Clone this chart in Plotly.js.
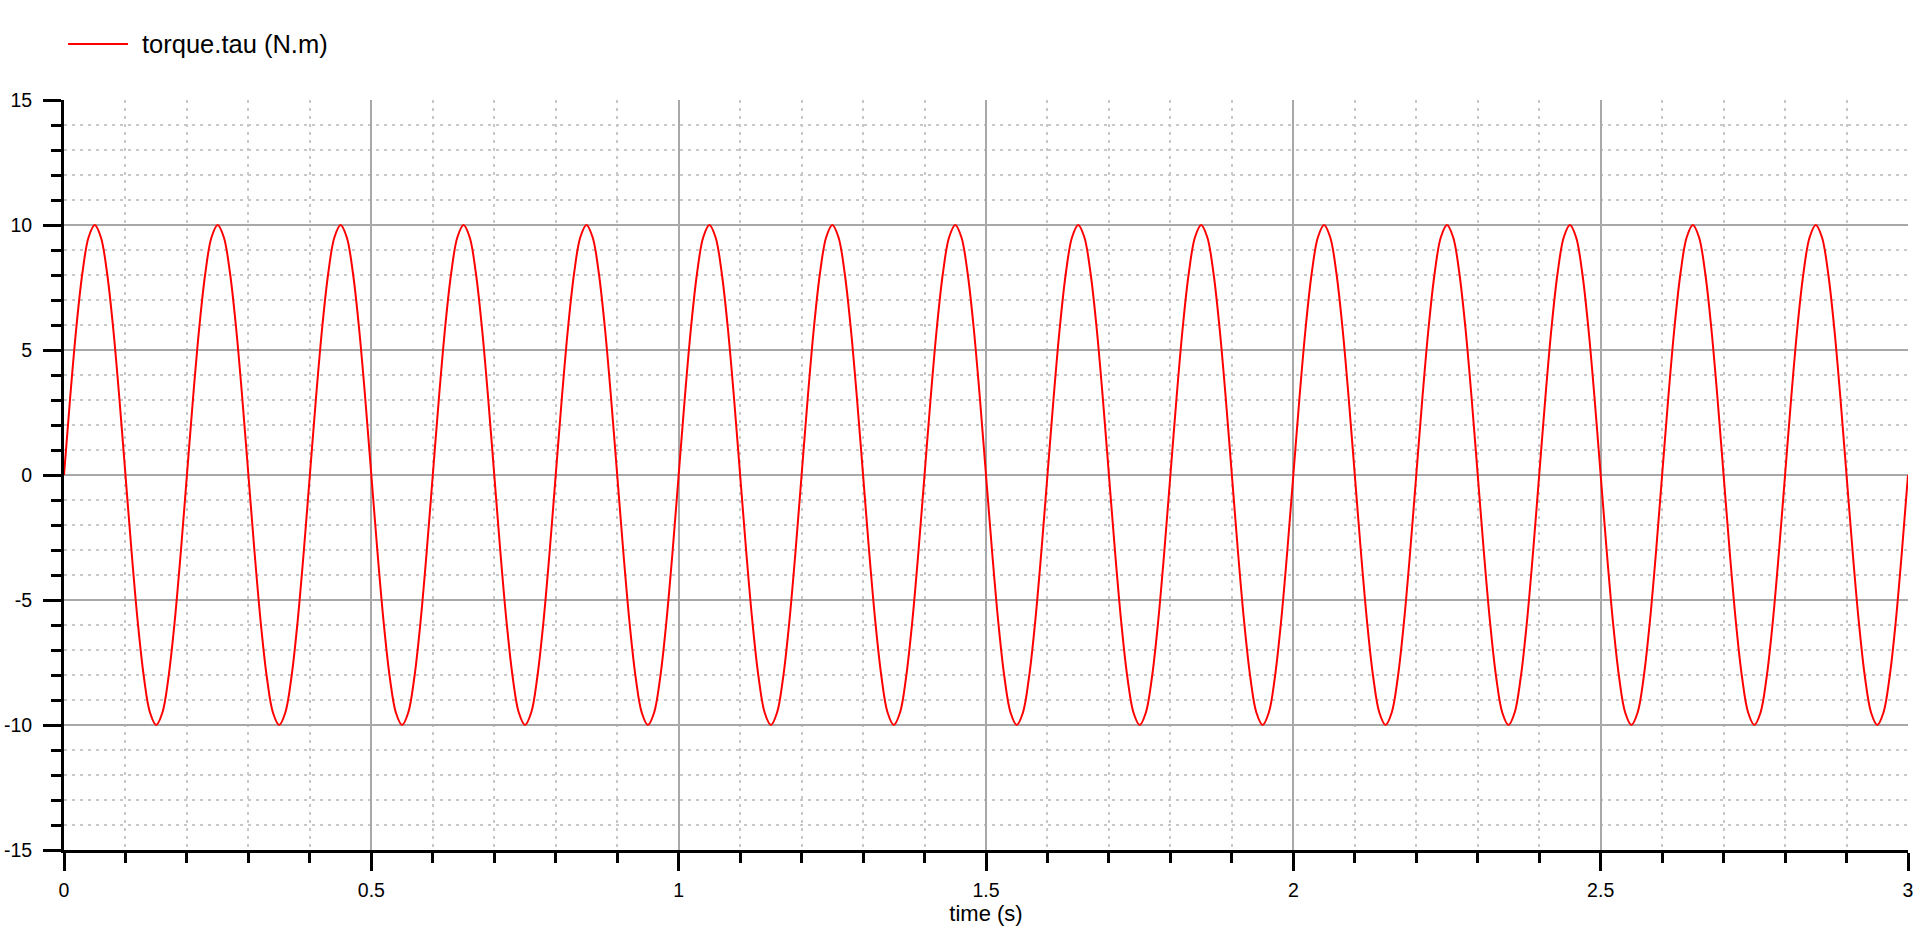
<!DOCTYPE html>
<html>
<head>
<meta charset="utf-8">
<script src="https://cdn.plot.ly/plotly-3.0.1.min.js"></script>
<style>html,body{margin:0;padding:0;background:#fff;}#chart{width:1924px;height:934px;}</style>
</head>
<body>
<div id="chart"></div>
<script>
const seriesName = "torque.tau (N.m)";
const time = [
0,0.01,0.02,0.03,0.04,0.05,0.06,0.07,0.08,0.09,0.1,0.11,0.12,0.13,0.14,0.15,0.16,0.17,0.18,0.19,
0.2,0.21,0.22,0.23,0.24,0.25,0.26,0.27,0.28,0.29,0.3,0.31,0.32,0.33,0.34,0.35,0.36,0.37,0.38,0.39,
0.4,0.41,0.42,0.43,0.44,0.45,0.46,0.47,0.48,0.49,0.5,0.51,0.52,0.53,0.54,0.55,0.56,0.57,0.58,0.59,
0.6,0.61,0.62,0.63,0.64,0.65,0.66,0.67,0.68,0.69,0.7,0.71,0.72,0.73,0.74,0.75,0.76,0.77,0.78,0.79,
0.8,0.81,0.82,0.83,0.84,0.85,0.86,0.87,0.88,0.89,0.9,0.91,0.92,0.93,0.94,0.95,0.96,0.97,0.98,0.99,
1,1.01,1.02,1.03,1.04,1.05,1.06,1.07,1.08,1.09,1.1,1.11,1.12,1.13,1.14,1.15,1.16,1.17,1.18,1.19,
1.2,1.21,1.22,1.23,1.24,1.25,1.26,1.27,1.28,1.29,1.3,1.31,1.32,1.33,1.34,1.35,1.36,1.37,1.38,1.39,
1.4,1.41,1.42,1.43,1.44,1.45,1.46,1.47,1.48,1.49,1.5,1.51,1.52,1.53,1.54,1.55,1.56,1.57,1.58,1.59,
1.6,1.61,1.62,1.63,1.64,1.65,1.66,1.67,1.68,1.69,1.7,1.71,1.72,1.73,1.74,1.75,1.76,1.77,1.78,1.79,
1.8,1.81,1.82,1.83,1.84,1.85,1.86,1.87,1.88,1.89,1.9,1.91,1.92,1.93,1.94,1.95,1.96,1.97,1.98,1.99,
2,2.01,2.02,2.03,2.04,2.05,2.06,2.07,2.08,2.09,2.1,2.11,2.12,2.13,2.14,2.15,2.16,2.17,2.18,2.19,
2.2,2.21,2.22,2.23,2.24,2.25,2.26,2.27,2.28,2.29,2.3,2.31,2.32,2.33,2.34,2.35,2.36,2.37,2.38,2.39,
2.4,2.41,2.42,2.43,2.44,2.45,2.46,2.47,2.48,2.49,2.5,2.51,2.52,2.53,2.54,2.55,2.56,2.57,2.58,2.59,
2.6,2.61,2.62,2.63,2.64,2.65,2.66,2.67,2.68,2.69,2.7,2.71,2.72,2.73,2.74,2.75,2.76,2.77,2.78,2.79,
2.8,2.81,2.82,2.83,2.84,2.85,2.86,2.87,2.88,2.89,2.9,2.91,2.92,2.93,2.94,2.95,2.96,2.97,2.98,2.99,
3
];
const torque = [
0,3.09,5.88,8.09,9.51,10,9.51,8.09,5.88,3.09,0,-3.09,-5.88,-8.09,-9.51,-10,-9.51,-8.09,-5.88,-3.09,
0,3.09,5.88,8.09,9.51,10,9.51,8.09,5.88,3.09,0,-3.09,-5.88,-8.09,-9.51,-10,-9.51,-8.09,-5.88,-3.09,
0,3.09,5.88,8.09,9.51,10,9.51,8.09,5.88,3.09,0,-3.09,-5.88,-8.09,-9.51,-10,-9.51,-8.09,-5.88,-3.09,
0,3.09,5.88,8.09,9.51,10,9.51,8.09,5.88,3.09,0,-3.09,-5.88,-8.09,-9.51,-10,-9.51,-8.09,-5.88,-3.09,
0,3.09,5.88,8.09,9.51,10,9.51,8.09,5.88,3.09,0,-3.09,-5.88,-8.09,-9.51,-10,-9.51,-8.09,-5.88,-3.09,
0,3.09,5.88,8.09,9.51,10,9.51,8.09,5.88,3.09,0,-3.09,-5.88,-8.09,-9.51,-10,-9.51,-8.09,-5.88,-3.09,
0,3.09,5.88,8.09,9.51,10,9.51,8.09,5.88,3.09,0,-3.09,-5.88,-8.09,-9.51,-10,-9.51,-8.09,-5.88,-3.09,
0,3.09,5.88,8.09,9.51,10,9.51,8.09,5.88,3.09,0,-3.09,-5.88,-8.09,-9.51,-10,-9.51,-8.09,-5.88,-3.09,
0,3.09,5.88,8.09,9.51,10,9.51,8.09,5.88,3.09,0,-3.09,-5.88,-8.09,-9.51,-10,-9.51,-8.09,-5.88,-3.09,
0,3.09,5.88,8.09,9.51,10,9.51,8.09,5.88,3.09,0,-3.09,-5.88,-8.09,-9.51,-10,-9.51,-8.09,-5.88,-3.09,
0,3.09,5.88,8.09,9.51,10,9.51,8.09,5.88,3.09,0,-3.09,-5.88,-8.09,-9.51,-10,-9.51,-8.09,-5.88,-3.09,
0,3.09,5.88,8.09,9.51,10,9.51,8.09,5.88,3.09,0,-3.09,-5.88,-8.09,-9.51,-10,-9.51,-8.09,-5.88,-3.09,
0,3.09,5.88,8.09,9.51,10,9.51,8.09,5.88,3.09,0,-3.09,-5.88,-8.09,-9.51,-10,-9.51,-8.09,-5.88,-3.09,
0,3.09,5.88,8.09,9.51,10,9.51,8.09,5.88,3.09,0,-3.09,-5.88,-8.09,-9.51,-10,-9.51,-8.09,-5.88,-3.09,
0,3.09,5.88,8.09,9.51,10,9.51,8.09,5.88,3.09,0,-3.09,-5.88,-8.09,-9.51,-10,-9.51,-8.09,-5.88,-3.09,
0
];
const xTickVals = [0, 0.5, 1, 1.5, 2, 2.5, 3];
const xTickText = ["0", "0.5", "1", "1.5", "2", "2.5", "3"];
const yTickVals = [-15, -10, -5, 0, 5, 10, 15];
const yTickText = ["-15", "-10", "-5", "0", "5", "10", "15"];

const font = "Liberation Sans, Arial, Helvetica, sans-serif";

const trace = {
  x: time, y: torque, type: "scatter", mode: "lines", name: seriesName,
  line: {color: "#ff0000", width: 2, shape: "spline", smoothing: 1},
  showlegend: false, hoverinfo: "x+y"
};

const minorCommon = {showgrid: true, griddash: "3px,5px", gridcolor: "#c8c8c8", gridwidth: 2,
  ticks: "outside", tickcolor: "#000", tickwidth: 3, ticklen: 10};

const layout = {
  width: 1924, height: 934,
  margin: {l: 64, r: 16, t: 100, b: 84},
  paper_bgcolor: "#ffffff", plot_bgcolor: "#ffffff",
  font: {family: font, size: 19.5, color: "#000"},
  xaxis: {
    range: [0, 3], tickmode: "array", tickvals: xTickVals, ticktext: xTickText,
    showgrid: true, gridcolor: "#a8a8a8", gridwidth: 2, zeroline: false,
    showline: true, linecolor: "#000", linewidth: 3,
    ticks: "outside", ticklen: 18, tickwidth: 3, tickcolor: "#000",
    ticklabelstandoff: 3,
    tickfont: {family: font, size: 19.5, color: "#000"},
    minor: Object.assign({tickmode: "linear", tick0: 0, dtick: 0.1}, minorCommon),
    title: {text: "time (s)", font: {family: font, size: 22, color: "#000"}, standoff: 6},
    automargin: false, fixedrange: true
  },
  yaxis: {
    range: [-15, 15], tickmode: "array", tickvals: yTickVals, ticktext: yTickText,
    showgrid: true, gridcolor: "#a8a8a8", gridwidth: 2, zeroline: false,
    showline: true, linecolor: "#000", linewidth: 3,
    ticks: "outside", ticklen: 18, tickwidth: 3, tickcolor: "#000",
    ticklabelstandoff: 7,
    tickfont: {family: font, size: 19.5, color: "#000"},
    minor: Object.assign({tickmode: "linear", tick0: 0, dtick: 1}, minorCommon),
    automargin: false, fixedrange: true
  },
  shapes: [
    {type: "line", xref: "paper", yref: "paper", x0: 0.0022, x1: 0.0347, y0: 1.0747, y1: 1.0747,
     line: {color: "#ff0000", width: 2}}
  ],
  annotations: [
    {xref: "paper", yref: "paper", x: 0.0412, y: 1.0747, xanchor: "left", yanchor: "middle",
     text: seriesName, showarrow: false, font: {family: font, size: 25.5, color: "#000"}}
  ]
};

Plotly.newPlot("chart", [trace], layout, {displayModeBar: false, staticPlot: true});
</script>
</body>
</html>
